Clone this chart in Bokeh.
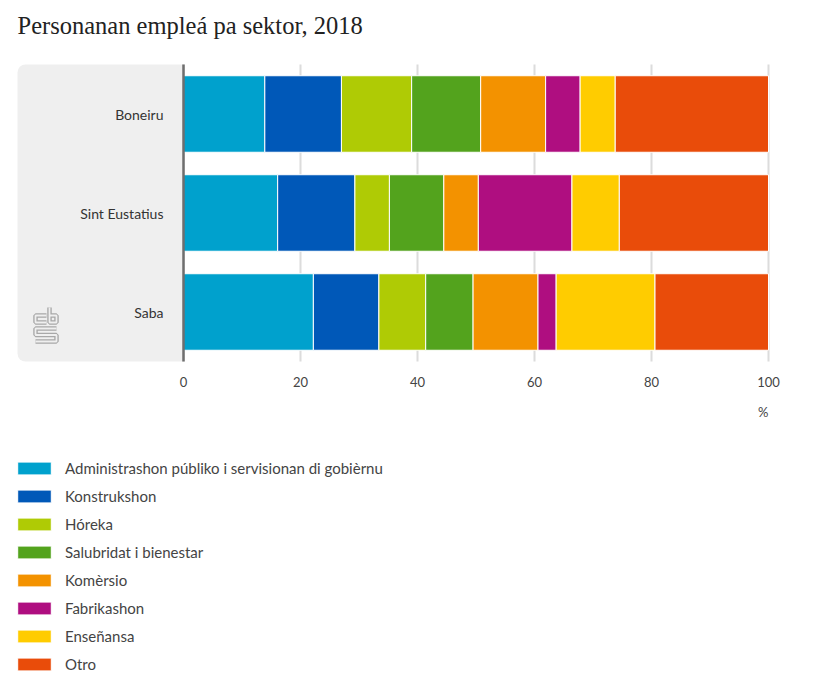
from bokeh.plotting import figure
from bokeh.models import Range1d, FixedTicker, BoxAnnotation, ColumnDataSource, Label, Legend
from bokeh.embed import file_html
from bokeh.resources import INLINE

islands = ["Boneiru", "Sint Eustatius", "Saba"]
sectors = ["Administrashon públiko i servisionan di gobièrnu", "Konstrukshon", "Hóreka",
           "Salubridat i bienestar", "Komèrsio", "Fabrikashon", "Enseñansa", "Otro"]
admin = [13.9, 16.1, 22.2]
konstrukshon = [13.1, 13.2, 11.2]
horeka = [12.0, 5.9, 8.0]
salubridat = [11.8, 9.3, 8.1]
komersio = [11.1, 5.9, 11.1]
fabrikashon = [5.9, 16.0, 3.1]
ensenansa = [6.0, 8.1, 16.9]
otro = [26.2, 25.5, 19.4]
x_ticks = [0, 20, 40, 60, 80, 100]
colors = ["#00a1cd", "#0058b8", "#afcb05", "#53a31d", "#f39200", "#af0e80", "#ffcc00", "#e94c0a"]

keys = ["admin", "konstrukshon", "horeka", "salubridat", "komersio", "fabrikashon", "ensenansa", "otro"]
positions = list(range(len(islands)))[::-1]  # Boneiru on top
source = ColumnDataSource(dict(pos=positions, island=islands, admin=admin, konstrukshon=konstrukshon,
                               horeka=horeka, salubridat=salubridat, komersio=komersio,
                               fabrikashon=fabrikashon, ensenansa=ensenansa, otro=otro))

W, H = 830, 692
X0_PX, PX_PER_X = 183.0, 5.85      # pixel of x=0, pixels per percent
Y0_PX, PX_PER_Y = 311.5, 99.0      # pixel of lowest category, pixels per category


def dx(px):
    return (px - X0_PX) / PX_PER_X


def dy(py):
    return (Y0_PX - py) / PX_PER_Y


p = figure(width=W, height=H, output_backend="svg", toolbar_location=None,
           x_range=Range1d(dx(0), dx(W)), y_range=Range1d(dy(H), dy(0)),
           min_border=0)
p.outline_line_color = None
p.background_fill_color = "white"

band_top = max(positions) + 0.5
band_bottom = min(positions) - 0.5

panel = BoxAnnotation(left=dx(17), right=0, top=band_top, bottom=band_bottom, fill_color="#efefef",
                      fill_alpha=1, line_color=None, level="underlay", border_radius=(8, 0, 0, 8))
p.add_layout(panel)

# grid lines only across the bar band
p.xgrid.visible = False
p.ygrid.visible = False
p.segment(x0=x_ticks, x1=x_ticks, y0=[band_bottom] * len(x_ticks), y1=[band_top] * len(x_ticks),
          line_color="#dcdcdc", line_width=2, level="underlay")

renderers = p.hbar_stack(keys, y="pos", height=0.773, source=source, fill_color=colors,
                         line_color="white", line_width=1)

# CBS logo (decoration)
logo_c = ([dx(46), dx(35), dx(35), dx(46)], [dy(315), dy(315), dy(322), dy(322)])
logo_b = ([dx(49), dx(49), dx(56), dx(56), dx(49)], [dy(307), dy(322), dy(322), dy(315), dy(315)])
logo_s = ([dx(56), dx(35), dx(35), dx(56), dx(56), dx(35)],
          [dy(328), dy(328), dy(334.5), dy(334.5), dy(341), dy(341)])
lx = [logo_c[0], logo_b[0], logo_s[0]]
ly = [logo_c[1], logo_b[1], logo_s[1]]
p.multi_line(xs=lx, ys=ly, line_color="#a8a8a8", line_width=4.5)
p.multi_line(xs=lx, ys=ly, line_color="#efefef", line_width=1.8)

font = "Lato"
yax = p.yaxis[0]
yax.fixed_location = 0
yax.bounds = (band_bottom, band_top)
yax.ticker = FixedTicker(ticks=positions)
yax.major_label_overrides = {pos: name for pos, name in zip(positions, islands)}
yax.axis_line_color = "#6e6e6e"
yax.axis_line_width = 2.5
yax.major_tick_line_color = None
yax.minor_tick_line_color = None
yax.major_tick_out = 0
yax.major_tick_in = 0
yax.major_label_standoff = 20
yax.major_label_text_font = font
yax.major_label_text_font_size = "14px"
yax.major_label_text_color = "#333333"

xax = p.xaxis[0]
xax.fixed_location = band_bottom
xax.ticker = FixedTicker(ticks=x_ticks)
xax.axis_line_color = None
xax.major_tick_line_color = None
xax.minor_tick_line_color = None
xax.major_tick_out = 0
xax.major_tick_in = 0
xax.major_label_standoff = 15
xax.major_label_text_font = font
xax.major_label_text_font_size = "13px"
xax.major_label_text_color = "#444444"

title = Label(x=dx(17), y=dy(25), text="Personanan empleá pa sektor, 2018",
              text_font="Liberation Serif", text_font_size="24.5px", text_color="#222222",
              text_align="left", text_baseline="middle")
p.add_layout(title)

pct = Label(x=100, y=dy(411), text="%", text_font=font, text_font_size="13px",
            text_color="#444444", text_align="right", text_baseline="middle")
p.add_layout(pct)

legend = Legend(items=[(name, [r]) for name, r in zip(sectors, renderers)],
                location=(13, H - 458 - (8 * 20 + 7 * 8)))
legend.orientation = "vertical"
legend.label_text_font = font
legend.label_text_font_size = "15px"
legend.label_text_color = "#444444"
legend.glyph_width = 42
legend.glyph_height = 16
legend.label_height = 20
legend.spacing = 8
legend.padding = 0
legend.margin = 0
legend.label_standoff = 10
legend.border_line_color = None
legend.background_fill_alpha = 0
p.add_layout(legend)

open("out.html", "w").write(file_html(p, INLINE))
